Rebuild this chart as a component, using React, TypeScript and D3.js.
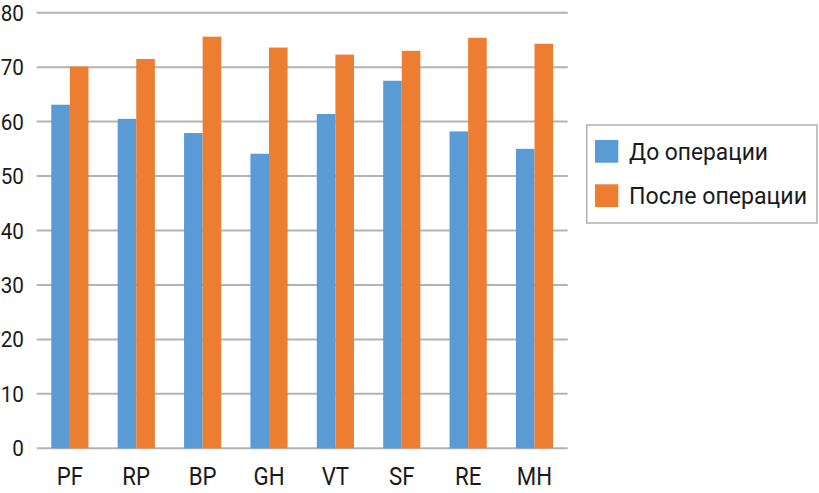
import React from "react";
import * as d3 from "d3";

const categories = ["PF", "RP", "BP", "GH", "VT", "SF", "RE", "MH"];
const seriesNames = ["До операции", "После операции"];
const before = [63.1, 60.5, 57.9, 54.1, 61.4, 67.5, 58.2, 55.0];
const after = [70.1, 71.5, 75.6, 73.6, 72.3, 73.0, 75.4, 74.3];
const yTicks = [0, 10, 20, 30, 40, 50, 60, 70, 80];
const colors = ["#5B9BD5", "#ED7D31"];

const W = 819;
const H = 493;
const plotLeft = 36.7;
const plotRight = 567.7;
const plotTop = 12.7;
const plotBottom = 448.3;

export default function App() {
  const x0 = d3
    .scaleBand<string>()
    .domain(categories)
    .range([plotLeft, plotRight])
    .paddingInner(0.44)
    .paddingOuter(0.22);
  const x1 = d3
    .scaleBand<string>()
    .domain(seriesNames)
    .range([0, x0.bandwidth()])
    .padding(0);
  const y = d3.scaleLinear().domain([0, 80]).range([plotBottom, plotTop]);
  const series = [before, after];
  const font = "Roboto, 'DejaVu Sans', sans-serif";

  return (
    <svg
      width={W}
      height={H}
      style={{ position: "absolute", left: 0, top: 0, background: "#fff" }}
      fontFamily={font}
    >
      {yTicks.map((t) => (
        <g key={t}>
          <line
            x1={plotLeft}
            x2={plotRight}
            y1={y(t)}
            y2={y(t)}
            stroke="#b3b3b3"
            strokeWidth={2}
          />
          <text
            x={24}
            y={y(t)}
            dy="0.36em"
            textAnchor="end"
            fontSize={22.5}
            fill="#1a1a1a"
            transform={`translate(24,0) scale(0.92,1) translate(-24,0)`}
          >
            {t}
          </text>
        </g>
      ))}
      {categories.map((c, i) => (
        <g key={c} transform={`translate(${x0(c)},0)`}>
          {seriesNames.map((s, j) => (
            <rect
              key={s}
              x={x1(s)}
              y={y(series[j][i])}
              width={x1.bandwidth()}
              height={y(0) - y(series[j][i])}
              fill={colors[j]}
            />
          ))}
          <text
            x={x0.bandwidth() / 2}
            y={485}
            textAnchor="middle"
            fontSize={26.5}
            fill="#1a1a1a"
            transform={`translate(${x0.bandwidth() / 2},0) scale(0.84,1) translate(${-x0.bandwidth() / 2},0)`}
          >
            {c}
          </text>
        </g>
      ))}
      <rect
        x={586.7}
        y={125}
        width={230.3}
        height={98}
        fill="#fff"
        stroke="#b0b0b0"
        strokeWidth={1.5}
      />
      {seriesNames.map((s, j) => (
        <g key={s} transform={`translate(0,${j * 44.3})`}>
          <rect x={595} y={140} width={23.3} height={22.7} fill={colors[j]} />
          <text
            x={629}
            y={160}
            fontSize={24}
            fill="#1a1a1a"
            textLength={j === 0 ? 139 : 178}
            lengthAdjust="spacingAndGlyphs"
          >
            {s}
          </text>
        </g>
      ))}
    </svg>
  );
}
